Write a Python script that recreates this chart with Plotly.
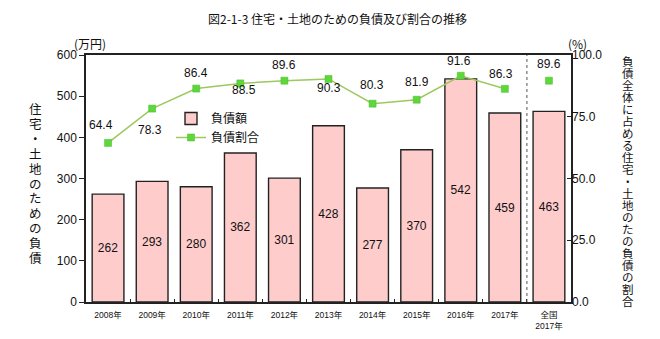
import plotly.graph_objects as go

# ---- data ----
categories = ["2008年", "2009年", "2010年", "2011年", "2012年", "2013年",
              "2014年", "2015年", "2016年", "2017年", "全国<br>2017年"]
debt_amount = [262, 293, 280, 362, 301, 428, 277, 370, 542, 459, 463]
debt_ratio = [64.4, 78.3, 86.4, 88.5, 89.6, 90.3, 80.3, 81.9, 91.6, 86.3, 89.6]
left_ticks = [0, 100, 200, 300, 400, 500, 600]
right_ticks = [0, 25, 50, 75, 100]

title_text = "図2-1-3 住宅・土地のための負債及び割合の推移"
left_title = "住宅・土地のための負債"
right_title = "負債全体に占める住宅・土地のたの負債の割合"

# ---- layout geometry (pixels) ----
W, H = 660, 339
L, R, T, B = 86, 571, 55, 302
PW, PH = R - L, B - T


def px(x):
    return (x - L) / PW


def py(y):
    return (B - y) / PH


FONT = "Liberation Sans, Arial, Noto Sans CJK JP, sans-serif"
JFONT = "Noto Sans CJK JP, sans-serif"

fig = go.Figure()

fig.add_trace(go.Bar(
    x=categories, y=debt_amount, name="負債額",
    marker=dict(color="#FFCCCC", line=dict(color="#222222", width=1.4)),
    width=0.72,
    text=[str(v) for v in debt_amount], textposition="inside",
    insidetextanchor="middle", textangle=0,
    textfont=dict(size=12, color="#111111", family=FONT),
    yaxis="y",
))

fig.add_trace(go.Scatter(
    x=categories[:10], y=debt_ratio[:10], name="負債割合",
    mode="lines+markers",
    line=dict(color="#9CC85E", width=1.5),
    marker=dict(symbol="square", size=7, color="#5CD83A",
                line=dict(color="#4BB82E", width=0.5)),
    yaxis="y2",
))
fig.add_trace(go.Scatter(
    x=categories[10:], y=debt_ratio[10:], name="負債割合",
    mode="markers", showlegend=False,
    marker=dict(symbol="square", size=7, color="#5CD83A",
                line=dict(color="#4BB82E", width=0.5)),
    yaxis="y2",
))

# percentage labels (manual offsets like the original)
label_yshift = [18, -21, 16, -7, 16, -9, 19, 18, 15, 15, 17]
label_xshift = [-7, -2, 0, 4, 0, 0, -1, 0, -2, -4, 0]
annotations = []
for c, v, ys, xs in zip(categories, debt_ratio, label_yshift, label_xshift):
    annotations.append(dict(
        x=c, y=v, xref="x", yref="y2", text=f"{v:.1f}", showarrow=False,
        xanchor="center", yanchor="middle",
        yshift=ys, xshift=xs, font=dict(size=12, color="#111111", family=FONT),
    ))


def ptext(text, x, y, size=12, family=JFONT):
    annotations.append(dict(x=px(x), y=py(y), xref="paper", yref="paper",
                            text=text, showarrow=False,
                            xanchor="center", yanchor="middle",
                            font=dict(size=size, color="#111111",
                                      family=family)))


# title and unit labels
ptext(title_text, 337, 18, 12)
ptext("(万円)", 90, 43, 12)
ptext("(%)", 577, 43, 12)


# vertical axis titles: one character per line; the base font size sets
# the line step (1.3 em), the inner span sets the glyph size
def vertical(text, xc, ycenter, step, glyph):
    base = step / 1.3
    body = "<br>".join(
        f'<span style="font-size:{glyph}px">{ch}</span>' for ch in text)
    ptext(body, xc, ycenter, base)


vertical(left_title, 35, 183, 14.9, 12.5)
vertical(right_title, 628, 181, 12.0, 11.5)

fig.update_layout(
    width=W, height=H,
    margin=dict(l=L, r=W - R, t=T, b=H - B, pad=0),
    paper_bgcolor="white", plot_bgcolor="white",
    font=dict(family=FONT, size=12, color="#111111"),
    showlegend=True,
    legend=dict(x=px(171), y=py(104), xanchor="left", yanchor="top",
                bgcolor="rgba(255,255,255,0)", itemwidth=30,
                font=dict(size=12, family=JFONT), tracegroupgap=0),
    annotations=annotations,
    xaxis=dict(
        type="category", showline=True, linecolor="#222222", linewidth=1.5,
        mirror=True, ticks="inside", ticklen=3, tickcolor="#222222",
        tickson="boundaries", showgrid=False, ticklabelstandoff=4,
        automargin=False,
        tickfont=dict(size=8.5, family=FONT), range=[-0.5, 10.5],
    ),
    yaxis=dict(
        range=[0, 600], tickvals=left_ticks, showline=True, automargin=False,
        linecolor="#222222", linewidth=1.5, mirror=True, ticks="outside",
        ticklen=5, tickcolor="#222222", showgrid=False, zeroline=False,
        tickfont=dict(size=12, family=FONT),
    ),
    yaxis2=dict(
        range=[0, 100], tickvals=right_ticks, tickformat=".1f",
        automargin=False,
        overlaying="y", side="right", showline=False, ticks="inside",
        ticklen=4, tickcolor="#222222", showgrid=False, zeroline=False,
        tickfont=dict(size=12, family=FONT),
    ),
    shapes=[dict(type="line", xref="x", yref="paper", x0=9.5, x1=9.5,
                 y0=0, y1=1, line=dict(color="#555555", width=1, dash="dot"))],
)

fig.write_html("out.html")
